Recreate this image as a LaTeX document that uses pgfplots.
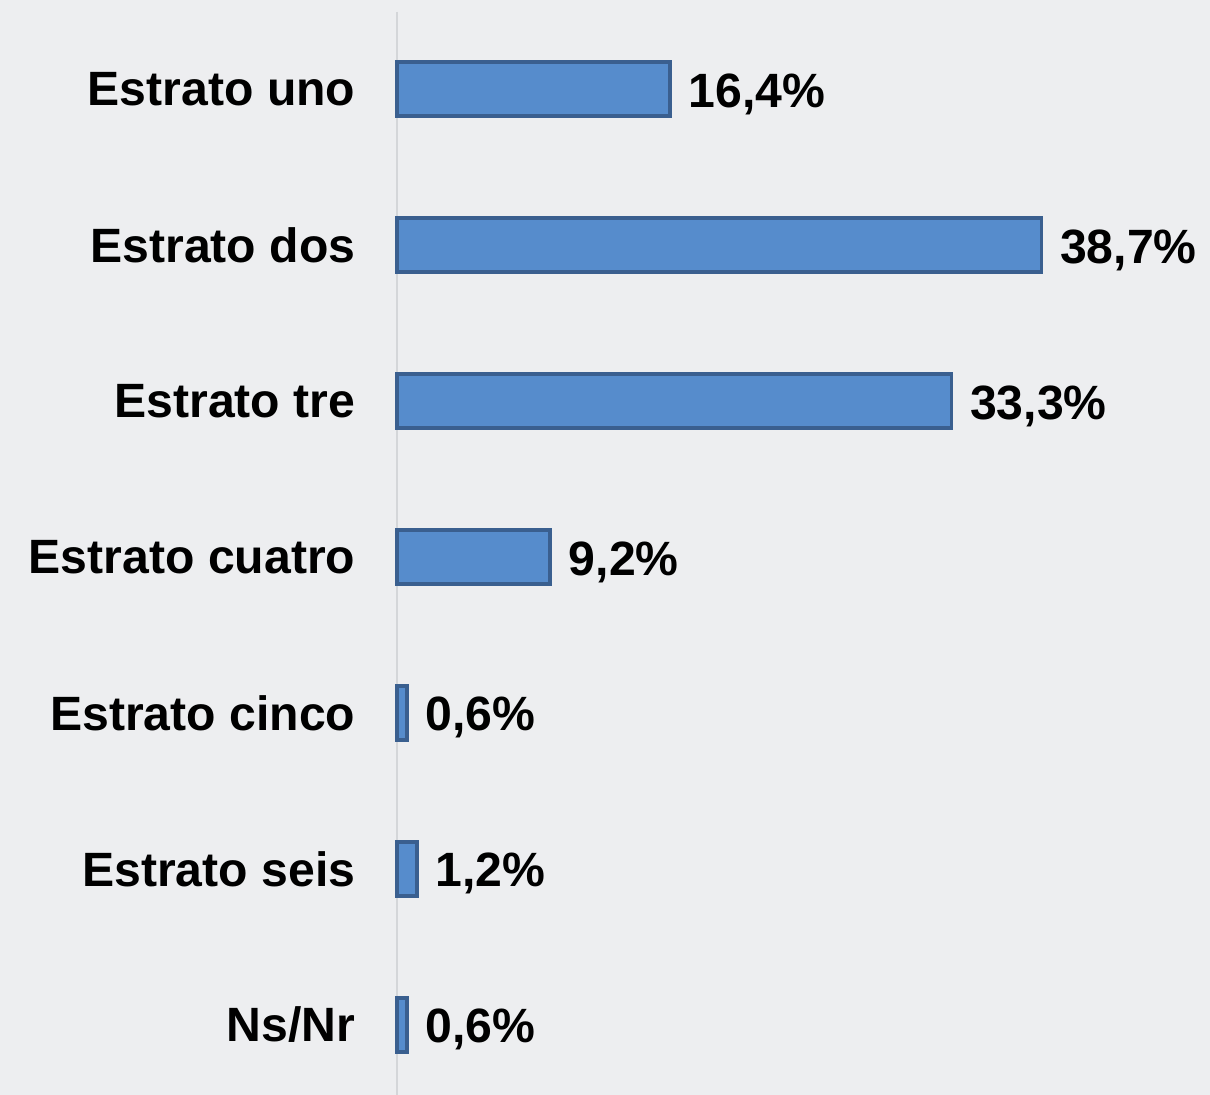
\documentclass[border=0pt]{standalone}
\usepackage{fontspec}
\setmainfont{Liberation Sans}
\usepackage{pgfplots}
\pgfplotsset{compat=1.18}
\definecolor{bg}{HTML}{EDEEF0}
\definecolor{barfill}{HTML}{568CCC}
\definecolor{baredge}{HTML}{3A5F8F}
\definecolor{axisgray}{HTML}{D4D6D9}
\begin{document}
\begin{tikzpicture}
\path[use as bounding box, fill=bg] (0,0) rectangle (12.10,10.95);
\begin{axis}[
  at={(3.97cm,0cm)}, anchor=south west,
  scale only axis, width=8.13cm, height=10.83cm,
  xmin=0, xmax=48.83,
  ymin=-0.494, ymax=6.449, y dir=reverse,
  axis x line=none,
  axis y line=left,
  y axis line style={-, draw=axisgray, line width=0.8pt},
  ytick={0,1,2,3,4,5,6},
  yticklabels={Estrato uno,Estrato dos,Estrato tre,Estrato cuatro,Estrato cinco,Estrato seis,Ns/Nr},
  major tick length=0pt,
  yticklabel style={font=\fontsize{13.7}{16}\selectfont\bfseries, anchor=east, inner sep=0pt, xshift=-0.41cm},
  xbar, bar width=0.54cm,
  point meta=explicit symbolic,
  nodes near coords,
  nodes near coords align={horizontal},
  every node near coord/.append style={font=\fontsize{13.7}{16}\selectfont\bfseries, anchor=base west, inner sep=0pt, xshift=0.17cm, yshift=-0.18cm},
  clip=false,
]
\addplot[fill=barfill, draw=baredge, line width=1.0pt] table[x=v, y=c, meta=l] {
c v l
0 16.4 16,4\%
1 38.7 38,7\%
2 33.3 33,3\%
3 9.2 9,2\%
4 0.6 0,6\%
5 1.2 1,2\%
6 0.6 0,6\%
};
\end{axis}
\end{tikzpicture}
\end{document}
